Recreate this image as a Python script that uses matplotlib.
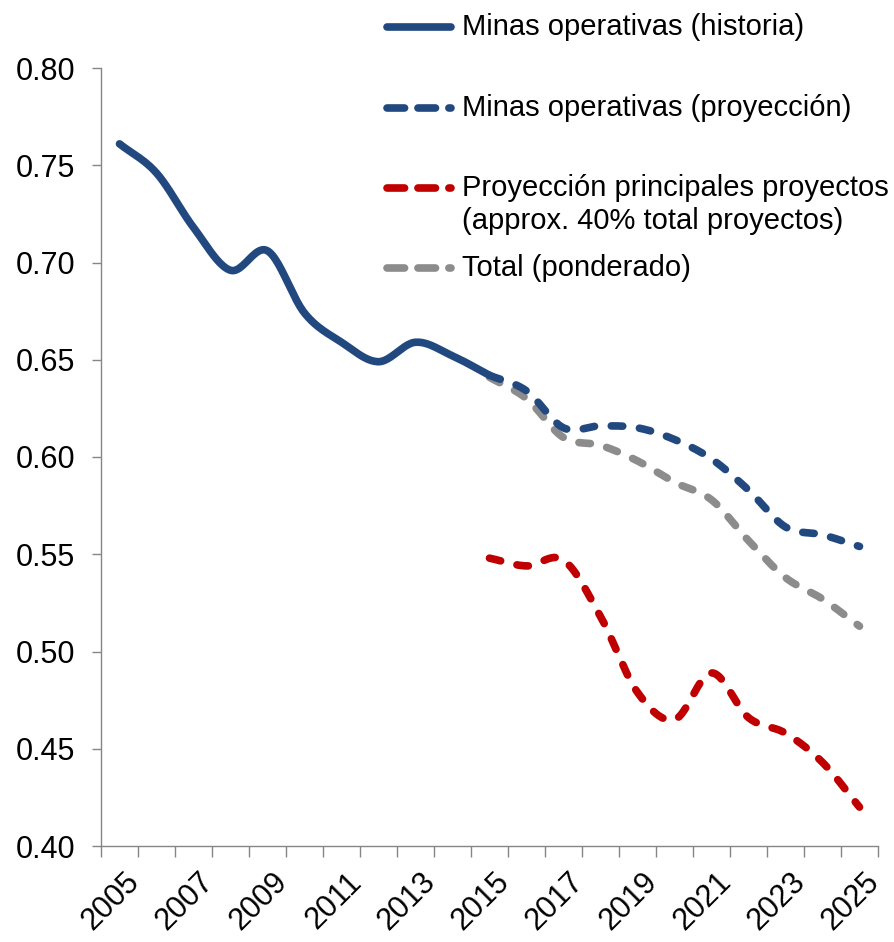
import matplotlib
matplotlib.use("Agg")
import matplotlib.pyplot as plt
import matplotlib.transforms as mtransforms
from matplotlib.lines import Line2D
import numpy as np

plt.rcParams['font.family'] = ['Liberation Sans', 'DejaVu Sans']

years = list(range(2005, 2026))
hist_years = list(range(2005, 2016))
hist_vals = [0.761, 0.746, 0.718, 0.696, 0.706, 0.674, 0.659, 0.649, 0.659, 0.652, 0.642]
proj_years = list(range(2015, 2026))
proj_vals = [0.642, 0.634, 0.615, 0.616, 0.615, 0.609, 0.599, 0.583, 0.564, 0.560, 0.554]
red_vals = [0.548, 0.544, 0.547, 0.518, 0.479, 0.465, 0.489, 0.466, 0.458, 0.443, 0.420]
total_vals = [0.641, 0.630, 0.610, 0.606, 0.598, 0.587, 0.578, 0.557, 0.538, 0.527, 0.513]

labels = ["Minas operativas (historia)", "Minas operativas (proyección)",
          "Proyección principales proyectos\n(approx. 40% total proyectos)",
          "Total (ponderado)"]

BLUE = "#22497f"
RED = "#c00000"
GRAY = "#8c8c8c"


def smooth(xs, ys, n=24):
    # catmull-rom style smoothing, like the excel "smoothed line"
    xs = np.asarray(xs, float)
    ys = np.asarray(ys, float)
    px = np.concatenate([[2 * xs[0] - xs[1]], xs, [2 * xs[-1] - xs[-2]]])
    py = np.concatenate([[2 * ys[0] - ys[1]], ys, [2 * ys[-1] - ys[-2]]])
    outx, outy = [], []
    t = np.linspace(0, 1, n, endpoint=False)
    for i in range(1, len(px) - 2):
        for arr, out in ((px, outx), (py, outy)):
            p0, p1, p2, p3 = arr[i - 1], arr[i], arr[i + 1], arr[i + 2]
            out.extend(0.5 * ((2 * p1) + (-p0 + p2) * t
                              + (2 * p0 - 5 * p1 + 4 * p2 - p3) * t ** 2
                              + (-p0 + 3 * p1 - 3 * p2 + p3) * t ** 3))
    outx.append(xs[-1])
    outy.append(ys[-1])
    return np.array(outx), np.array(outy)


fig = plt.figure(figsize=(8.94, 9.42), dpi=100)
ax = fig.add_axes([101 / 894, 1 - 846 / 942, 777 / 894, (846 - 68) / 942])

lw = 5.5
dash = (1.5, 2.2)

# gray first so the blue sits on top
sx, sy = smooth([y - 2005 for y in proj_years], total_vals)
ax.plot(sx, sy, color=GRAY, lw=lw, dashes=dash, dash_capstyle='round', solid_capstyle='round')
sx, sy = smooth([y - 2005 for y in proj_years], red_vals)
ax.plot(sx, sy, color=RED, lw=lw, dashes=dash, dash_capstyle='round')
sx, sy = smooth([y - 2005 for y in proj_years], proj_vals)
ax.plot(sx, sy, color=BLUE, lw=lw, dashes=dash, dash_capstyle='round')
sx, sy = smooth([y - 2005 for y in hist_years], hist_vals)
ax.plot(sx, sy, color=BLUE, lw=lw, solid_capstyle='round')

ax.set_xlim(-0.5, len(years) - 0.5)
ax.set_ylim(0.40, 0.80)
ax.set_yticks(np.arange(0.40, 0.801, 0.05))
ax.set_yticklabels([f"{v:.2f}" for v in np.arange(0.40, 0.801, 0.05)])

# tick marks between categories, labels every other year
ax.set_xticks(np.arange(-0.5, len(years), 1.0))
ax.set_xticklabels([])

for s in ['top', 'right']:
    ax.spines[s].set_visible(False)
for s in ['left', 'bottom']:
    ax.spines[s].set_color('#868686')
    ax.spines[s].set_linewidth(1.0)

ax.tick_params(axis='y', which='major', direction='out', length=6.5, width=1.0,
               color='#868686', labelsize=22, pad=12)
ax.tick_params(axis='x', which='major', direction='out', length=8, width=1.0, color='#868686')

shift = mtransforms.ScaledTranslation(5 / 100, -21 / 100, fig.dpi_scale_trans)
for i, yr in enumerate(years):
    if i % 2 == 0:
        ax.text(i, 0, str(yr), transform=ax.get_xaxis_transform() + shift,
                rotation=45, rotation_mode='anchor', ha='right', va='top', fontsize=22)

# legend drawn by hand (Excel puts the handle on the first line of a wrapped entry)
leg_rows = [27, 108, 188, 268]
leg_colors = [BLUE, BLUE, RED, GRAY]
for i, (yy, c, lab) in enumerate(zip(leg_rows, leg_colors, labels)):
    yf = 1 - yy / 942
    kw = dict(color=c, lw=lw, transform=fig.transFigure)
    if i == 0:
        ln = Line2D([387 / 894, 451 / 894], [yf, yf], solid_capstyle='round', **kw)
    else:
        ln = Line2D([387 / 894, 451 / 894], [yf, yf], dashes=(2.3, 1.75),
                    dash_capstyle='round', **kw)
    fig.add_artist(ln)
    for j, part in enumerate(lab.split("\n")):
        fig.text(462 / 894, 1 - (yy + 33 * j) / 942, part, fontsize=21,
                 va='center', ha='left', transform=fig.transFigure)

fig.savefig("out.png", dpi=100)
